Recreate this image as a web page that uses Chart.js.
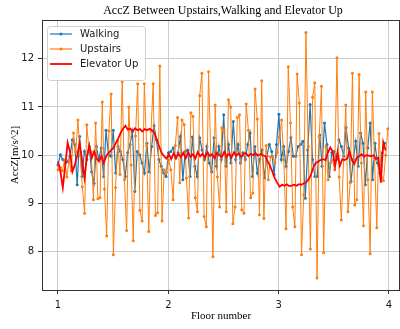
<!DOCTYPE html>
<html>
<head>
<meta charset="utf-8">
<script src="https://cdn.jsdelivr.net/npm/chart.js@4.4.1/dist/chart.umd.min.js"></script>
<style>
  html, body { margin: 0; padding: 0; background: #fff; }
</style>
</head>
<body>
<canvas id="chart" width="400" height="329"></canvas>
<script>
// Floor number ticks and AccZ ticks
const X_TICKS = [1, 2, 3, 4];
const Y_TICKS = [8, 9, 10, 11, 12];

// sample ranges along the floor-number axis
const WALK_START = 1.0, WALK_END = 3.96;
const UP_START = 1.0, UP_END = 3.99;
const ELEV_START = 1.0, ELEV_END = 3.97;

// AccZ readings (m/s^2)
const walking = [
    9.80, 10.01, 9.91, 9.84, 9.87, 9.98, 10.32, 10.22, 9.39, 10.39, 9.56, 10.08, 9.91, 10.18, 9.66, 9.42, 10.18, 9.91, 10.15, 9.56, 10.52, 10.01, 9.98,
    10.52, 9.63, 10.18, 10.08, 9.91, 9.56, 10.05, 10.22, 10.49, 9.25, 10.08, 10.01, 9.84, 9.63, 10.25, 9.66, 10.18, 10.61, 10.32, 9.91, 9.77, 9.63, 9.56, 10.05, 10.08, 10.15, 9.94, 10.05,
    10.39, 9.49, 10.08, 10.11, 9.56, 10.38, 9.77, 9.56, 10.36, 10.11, 9.91, 10.18, 9.84, 9.66, 10.36, 9.77, 10.18, 9.91, 10.84, 9.77, 10.22,
    9.84, 10.70, 9.91, 10.22, 9.84, 10.05, 9.91, 10.22, 10.46, 9.56, 10.18, 9.63, 9.91, 10.11, 9.53, 9.98, 10.22, 10.08, 9.60, 10.22, 10.85, 9.91, 10.18, 9.77, 10.08, 10.36,
    9.98, 9.98, 10.18, 10.22, 10.29, 9.11, 10.11, 11.05, 9.91, 9.56, 9.56, 10.42, 9.77, 10.67, 10.22, 9.56, 10.05, 10.08, 9.91, 10.32, 10.18, 9.98,
    10.57, 10.15, 9.46, 9.91, 10.29, 9.77, 10.46, 10.25, 9.39, 10.15, 10.67, 9.49, 10.25, 9.84, 9.63, 10.05, 10.25
];

const upstairs = [
    9.70, 9.75, 9.68, 9.90, 9.55, 9.90, 9.68, 10.46, 10.07, 10.73,
    10.00, 9.35, 8.80, 10.63, 10.10, 10.07, 9.08, 10.67, 9.10, 9.12,
    11.10, 9.30, 8.33, 10.50, 11.27, 7.94, 9.33, 10.30, 9.60, 11.52,
    9.50, 8.44, 11.00, 9.80, 8.23, 10.40, 11.48, 8.86, 8.64, 11.48,
    10.20, 8.42, 10.50, 11.48, 8.75, 8.81, 11.85, 8.64, 9.70, 9.65,
    9.90,
    9.70, 9.08, 10.20, 10.78, 9.43, 10.73, 10.63, 9.53, 8.70, 10.88,
    10.80, 9.12, 8.83, 11.23, 11.70, 8.73, 8.52, 11.73, 10.00, 7.90,
    11.04, 9.55, 8.93, 10.57, 10.52,
    8.83, 11.15, 11.00, 8.58, 8.93, 10.78, 10.84, 8.87, 8.80, 11.06,
    10.52, 9.12, 9.22, 11.37, 10.75, 8.77, 11.54, 8.69, 10.20, 9.49,
    9.97, 9.97, 9.84, 10.05,
    10.38, 10.73, 9.90, 8.48, 11.83, 10.67, 8.93, 8.52, 11.68, 11.08,
    7.94, 9.18, 12.54, 10.18, 8.06, 11.20, 11.50, 7.46, 10.37, 11.43,
    7.98, 10.18, 9.49, 9.84, 9.90, 9.70, 12.02,
    9.55, 8.66, 9.90, 11.04, 8.83, 9.43, 11.70, 8.97, 9.08, 11.67,
    9.84, 8.54, 11.31, 9.49, 7.96, 11.31, 9.90, 8.50, 10.45, 9.55,
    9.47, 10.00, 10.55
];

const elevatorUp = [
    9.87, 9.66, 9.33, 9.78, 10.26, 10.07, 9.66, 9.80, 10.00, 10.26,
    9.90, 9.53, 9.97, 10.20, 9.94, 10.08, 9.94, 9.87, 9.98, 9.84,
    9.98, 10.05, 10.10, 10.15, 10.25, 10.35, 10.46, 10.55, 10.61, 10.53,
    10.55, 10.50, 10.56, 10.52, 10.54, 10.49, 10.54, 10.52, 10.55, 10.52,
    10.46, 10.32, 10.18, 10.05, 9.98, 9.93, 10.02, 9.92, 10.04, 9.95,
    10.03,
    9.96, 10.05, 9.94, 10.06, 9.97, 10.02, 9.93, 10.07, 9.98, 10.03,
    9.95, 10.06, 9.99, 10.02, 9.94, 10.05, 10.00, 9.96, 10.07, 9.97,
    10.03, 9.95, 10.06, 9.99, 10.04, 9.97, 10.02, 10.05, 9.98, 10.03,
    10.00, 10.04, 9.99, 10.02, 10.00,
    9.98, 9.88, 9.78, 9.66, 9.52, 9.43, 9.35, 9.39, 9.37, 9.40,
    9.36, 9.37, 9.39, 9.37, 9.40, 9.39, 9.42, 9.44, 9.50, 9.60,
    9.75, 9.84, 9.87, 9.90, 9.92, 9.90, 10.05, 10.16, 10.08, 9.77,
    10.05, 9.78, 9.92, 9.90, 9.93, 10.08, 9.90, 9.82, 9.95, 9.98,
    10.02, 9.97, 10.00, 9.99, 9.98, 10.00, 9.92, 9.95, 9.43, 10.27,
    10.10
];

// spread evenly spaced samples over a floor range
function toPoints(values, start, end) {
    const step = (end - start) / (values.length - 1);
    return values.map((v, i) => ({ x: start + i * step, y: v }));
}

const SERIES = [
    { label: 'Walking', data: walking, start: WALK_START, end: WALK_END, color: '#1f77b4', width: 1.2, marker: true },
    { label: 'Upstairs', data: upstairs, start: UP_START, end: UP_END, color: '#ff7f0e', width: 1, marker: true },
    { label: 'Elevator Up', data: elevatorUp, start: ELEV_START, end: ELEV_END, color: '#ff0000', width: 1.8, marker: false }
];

// title, frame and matplotlib-style legend
const decorPlugin = {
    id: 'decor',
    afterDraw(chart) {
        const ctx = chart.ctx;
        const a = chart.chartArea;
        ctx.save();

        ctx.strokeStyle = '#333333';
        ctx.lineWidth = 1;
        ctx.strokeRect(a.left + 0.5, a.top + 0.5, a.right - a.left - 1, a.bottom - a.top);

        ctx.fillStyle = '#000';
        ctx.font = '12px "Liberation Serif", "DejaVu Serif", serif';
        ctx.textAlign = 'center';
        ctx.textBaseline = 'middle';
        ctx.fillText('AccZ Between Upstairs,Walking and Elevator Up', 223, 11);

        const lx = 47, ly = 26, lw = 98, lh = 54;
        ctx.beginPath();
        ctx.roundRect(lx + 0.5, ly + 0.5, lw, lh, 3);
        ctx.fillStyle = 'rgba(255,255,255,0.85)';
        ctx.fill();
        ctx.strokeStyle = '#d0d0d0';
        ctx.stroke();

        ctx.font = '10px "DejaVu Sans", sans-serif';
        ctx.textAlign = 'left';
        SERIES.forEach((s, i) => {
            const y = ly + 8 + i * 15;
            ctx.strokeStyle = s.color;
            ctx.lineWidth = s.marker ? 1.2 : 1.8;
            ctx.beginPath();
            ctx.moveTo(50, y);
            ctx.lineTo(72, y);
            ctx.stroke();
            if (s.marker) {
                ctx.fillStyle = s.color;
                ctx.beginPath();
                ctx.arc(61, y, 1.6, 0, Math.PI * 2);
                ctx.fill();
            }
            ctx.fillStyle = '#1a1a1a';
            ctx.fillText(s.label, 80, y + 0.5);
        });
        ctx.restore();
    }
};

new Chart(document.getElementById('chart'), {
    type: 'line',
    data: {
        datasets: SERIES.map((s, i) => ({
            label: s.label,
            data: toPoints(s.data, s.start, s.end),
            borderColor: s.color,
            backgroundColor: s.color,
            borderWidth: s.width,
            pointRadius: s.marker ? 1.5 : 0,
            pointBorderWidth: 0,
            pointBackgroundColor: s.color,
            tension: 0,
            fill: false,
            order: SERIES.length - i
        }))
    },
    options: {
        responsive: false,
        animation: false,
        devicePixelRatio: 1,
        layout: { autoPadding: false, padding: { top: 20, right: 0, left: 0, bottom: 0 } },
        plugins: {
            legend: { display: false },
            title: { display: false },
            tooltip: { enabled: false }
        },
        scales: {
            x: {
                type: 'linear',
                min: 0.855,
                max: 4.1,
                afterFit(scale) { scale.height = 39; },
                afterBuildTicks(scale) { scale.ticks = X_TICKS.map(v => ({ value: v })); },
                grid: { color: '#cccccc', lineWidth: 1, tickColor: '#333333', tickLength: 4 },
                border: { display: false },
                ticks: {
                    color: '#1a1a1a',
                    padding: 5,
                    maxRotation: 0,
                    font: { family: 'DejaVu Sans', size: 10 }
                },
                title: {
                    display: true,
                    text: 'Floor number',
                    color: '#000',
                    padding: { top: 0, bottom: 6 },
                    font: { family: 'Liberation Serif', size: 11 }
                }
            },
            y: {
                min: 7.21,
                max: 12.8,
                afterFit(scale) { scale.width = 42; },
                afterBuildTicks(scale) { scale.ticks = Y_TICKS.map(v => ({ value: v })); },
                grid: { color: '#cccccc', lineWidth: 1, tickColor: '#333333', tickLength: 4 },
                border: { display: false },
                ticks: {
                    color: '#1a1a1a',
                    padding: 4,
                    font: { family: 'DejaVu Sans', size: 10 }
                },
                title: {
                    display: true,
                    text: 'AccZ[m/s^2]',
                    color: '#000',
                    padding: { top: 9, bottom: 0 },
                    font: { family: 'Liberation Serif', size: 11 }
                }
            }
        }
    },
    plugins: [decorPlugin]
});
</script>
</body>
</html>
